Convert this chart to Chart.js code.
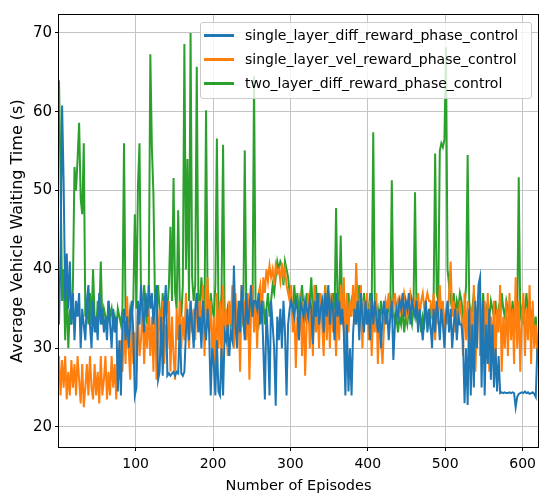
<!DOCTYPE html>
<html>
<head>
<meta charset="utf-8">
<title>Average Vehicle Waiting Time</title>
<script src="https://cdn.jsdelivr.net/npm/chart.js"></script>
<style>
    body { margin: 0; background: #fff; }
    .wrap { position: relative; width: 541px; height: 494px; }
    .legend {
        position: absolute; left: 200px; top: 22px; width: 330px;
        padding: 0 0 3px 0;
        background: rgba(255, 255, 255, 0.8);
        border: 1px solid #cccccc; border-radius: 3px;
        font-family: "DejaVu Sans", sans-serif; font-size: 14px; color: #000;
    }
    .legend .row { height: 24px; line-height: 24px; display: flex; align-items: center; white-space: nowrap; }
    .legend .swatch { width: 30px; height: 3px; margin: 0 11px 0 3px; }
</style>
</head>
<body>
<div class="wrap">
    <canvas id="chart"></canvas>
    <div id="legend" class="legend"></div>
</div>
<script>
// episodes are sampled every second episode
const episodes = [];
for (let e = 1; e < 620; e += 2) episodes.push(e);

const seriesLabels = [
    'single_layer_diff_reward_phase_control',
    'single_layer_vel_reward_phase_control',
    'two_layer_diff_reward_phase_control'
];
const seriesColors = ['#1f77b4', '#ff7f0e', '#2ca02c'];

const xTicks = [100, 200, 300, 400, 500, 600];
const yTicks = [20, 30, 40, 50, 60, 70];

// single_layer_diff_reward_phase_control (blue)
const diffReward = [
    33, 42, 60.8, 51, 36, 42, 35, 41, 33, 37,
    31, 36, 34, 37, 30, 35, 33, 31, 36, 38,
    33, 30, 36, 32, 34, 31, 37, 33, 35, 32,
    34, 31, 36, 33, 30, 35, 32, 34, 24.5, 31,
    24, 33, 35, 31, 34, 30, 33, 36, 32, 24,
    25, 36, 33, 38, 35, 32, 37, 34, 38, 35,
    37, 33, 36, 38, 26, 27, 34, 26.5, 35, 38,
    26.5, 26.8, 26.5, 26.8, 27, 26.5, 27, 26.8, 33, 26.8,
    26.5, 27, 32, 35, 31, 36, 33, 30, 35, 37,
    32, 34, 30, 36, 33, 31, 35, 32, 24, 30,
    28, 24, 31, 24.5, 24, 30, 24, 32, 31, 33,
    29, 32, 31, 40.5, 33, 30, 36, 32, 38, 34,
    31, 37, 33, 35, 38, 34, 36, 36, 35, 37,
    33, 36, 30, 23.5, 35, 31, 24, 36, 33, 30,
    22.7, 34, 31, 35, 30, 36, 32, 24, 33, 35,
    36, 35, 34, 36, 35, 31, 36, 35, 34, 36,
    35, 34, 36, 35, 30.5, 36, 34, 37, 33, 35,
    36, 32, 37, 34, 38, 33, 36, 35, 31, 37,
    34, 36, 33, 35, 32, 24, 33, 24.5, 30, 24,
    32, 35, 33, 36, 31, 37, 34, 32, 36, 33,
    35, 31, 37, 33, 36, 34, 32, 35, 30, 34,
    36, 33, 35, 31, 34, 36, 28.5, 33, 35, 34,
    36, 35, 37, 34, 36, 35, 37, 33, 36, 35,
    34, 36, 32, 35, 33, 31, 34, 36, 32, 35,
    33, 30, 35, 32, 36, 34, 31, 35, 33, 30,
    34, 36, 32, 35, 30, 33, 35, 31, 34, 33,
    33, 31, 23, 30, 22.8, 35, 24, 33, 25, 36,
    30, 38, 39, 25, 36, 24, 33, 28, 35, 26,
    33, 25, 30, 24.5, 29, 24.3, 24.4, 24.3, 24.4, 24.3,
    24.3, 24.4, 24.3, 24.4, 24.3, 22.5, 23.8, 24.2, 24.3, 24.4,
    24.3, 24.5, 24.3, 24.4, 24.2, 24.3, 24.4, 24.2, 23.8, 30
];

// single_layer_vel_reward_phase_control (orange)
const velReward = [
    29, 24, 28.5, 25, 29, 23.5, 27, 24, 28.5, 25,
    28, 24, 29, 26, 23, 28, 22.5, 25, 28, 24,
    29, 25, 23.5, 28, 24, 27, 23, 29, 24, 26,
    29, 23.5, 27, 24, 29, 25, 28, 23.5, 30, 26,
    31, 27, 33, 28, 36.6, 30, 26, 34, 28, 32,
    27, 35, 29, 31, 36, 28, 33, 30, 35, 29,
    34, 27, 36, 26, 32, 35, 29, 36, 28, 33,
    30, 36, 27, 34, 29, 26, 35, 31, 36, 30,
    34, 31, 37, 33, 30, 36, 32, 35, 31, 37,
    33, 36, 31, 38, 29, 35, 39, 32, 36, 28,
    34, 27, 37, 30, 36, 28, 38, 31, 35, 29,
    36, 33, 38, 30, 37, 32, 35, 27, 38, 33,
    36, 31, 37, 26, 34, 38, 32, 36, 30, 37,
    38, 34, 39, 37, 40, 38.5, 40.5, 39, 40, 38,
    40.5, 39.5, 40, 38.5, 40.8, 39, 40, 38, 37, 36,
    38, 32, 35, 27.5, 34, 31, 37, 29, 36, 26.5,
    33, 37, 30, 36, 29, 38, 32, 35, 30, 37,
    33, 29, 38, 31, 36, 30, 37, 32, 35, 29,
    36, 31, 38, 33, 39, 30, 37, 32, 36, 34,
    38, 33, 40.8, 35, 32, 38, 30, 36, 33, 37,
    31, 36, 29, 35, 32, 37, 28, 34, 31, 28,
    33, 36, 35, 37, 34, 36, 35, 37, 35, 36,
    34, 36, 35, 37, 36, 34, 35, 37, 36, 35,
    36, 35, 37, 34, 36, 37, 35, 36, 37, 36,
    36, 34, 37, 31, 36, 33, 38, 34, 36, 32,
    35, 33, 37, 41, 34, 36, 32, 35, 33, 36,
    34, 29, 37, 31, 36, 28, 35, 30, 38, 27,
    33, 37, 29, 35, 28, 36, 31, 37, 27, 34,
    30, 36, 28, 35, 32, 38, 27, 34, 30, 36,
    29, 37, 31, 35, 28, 39, 30, 36, 27, 34,
    37, 29, 35, 31, 38, 28, 36, 30, 33, 29
];

// two_layer_diff_reward_phase_control (green)
const twoLayer = [
    64, 52, 36, 40, 31, 38, 30, 35, 33, 38,
    53, 50, 54, 58.6, 49, 47, 56, 34, 36, 33,
    37, 33, 40, 34, 32, 36, 34, 41, 33, 35,
    34, 33, 36, 34, 35, 33, 34, 32, 35, 34,
    33, 35, 56, 34, 34, 33, 35, 34, 36, 47,
    35, 50.5, 56, 36, 34, 38, 35, 33, 37, 67.3,
    55.5, 49.5, 36, 34, 38, 35, 33, 37, 34, 36,
    35, 38, 45.4, 36, 51.6, 37, 35, 47.5, 36, 34,
    38, 68.6, 40, 54, 36, 70, 39, 36, 38, 65.7,
    37, 35, 39, 36, 34, 60.2, 36, 33, 37, 35,
    34, 38, 56.6, 35, 33, 37, 55.8, 34, 32, 35,
    34, 33, 36, 34, 35, 33, 34, 36, 34, 33,
    55.1, 35, 34, 33, 36, 34, 64.5, 35, 34, 33,
    35, 34, 36, 33, 35, 37, 34, 36, 38, 37,
    39, 41, 40, 41, 40.5, 38, 41, 40, 39, 37,
    36, 34, 38, 35, 37, 34, 36, 38, 35, 34,
    37, 35, 36, 39, 34, 36, 38, 35, 37, 34,
    36, 35, 38, 34, 37, 36, 35, 37, 34, 47.8,
    35, 36, 44.3, 34, 36, 35, 33, 37, 34, 36,
    35, 37, 34, 36, 38, 35, 34, 37, 35, 36,
    34, 37, 35, 57.4, 36, 34, 35, 33, 36, 34,
    33, 35, 34, 36, 34, 51.3, 35, 33, 34, 32,
    34, 33, 35, 32, 34, 33, 35, 34, 33, 35,
    49.8, 34, 33, 35, 32, 34, 33, 35, 34, 33,
    35, 34, 36, 54.7, 37, 36, 55, 56, 55.5, 56.5,
    68.2, 40, 38, 36, 35, 37, 34, 36, 35, 37,
    36, 34, 35, 38, 54.5, 36, 34, 35, 37, 35,
    34, 36, 35, 33, 37, 34, 35, 33, 34, 36,
    35, 34, 36, 33, 35, 34, 37, 35, 34, 36,
    35, 34, 33, 36, 34, 35, 33, 51.7, 34, 35,
    33, 35, 37, 34, 36, 33, 35, 32, 34, 30
];

const seriesValues = [diffReward, velReward, twoLayer];

const family = '"DejaVu Sans", sans-serif';

// black frame round the plot area, like the matplotlib axes
const framePlugin = {
    id: 'frame',
    afterDraw(chart) {
        const a = chart.chartArea;
        const ctx = chart.ctx;
        ctx.save();
        ctx.strokeStyle = '#000';
        ctx.lineWidth = 1;
        ctx.strokeRect(Math.round(a.left) - 0.5, Math.round(a.top) - 0.5,
            Math.round(a.right - a.left) + 1, Math.round(a.bottom - a.top) + 1);
        ctx.restore();
    }
};

const datasets = seriesLabels.map((label, i) => ({
    label: label,
    data: episodes.map((e, j) => ({ x: e, y: seriesValues[i][j] })),
    borderColor: seriesColors[i],
    backgroundColor: seriesColors[i],
    borderWidth: 2,
    pointRadius: 0,
    tension: 0,
    fill: false
}));

const chart = new Chart(document.getElementById('chart'), {
    type: 'line',
    data: { datasets: datasets },
    options: {
        responsive: true,
        maintainAspectRatio: false,
        animation: false,
        layout: { padding: { top: 15, right: 1, left: 0, bottom: 0 } },
        plugins: {
            legend: { display: false },
            tooltip: { enabled: false }
        },
        scales: {
            x: {
                type: 'linear',
                min: 1,
                max: 620,
                afterBuildTicks: (s) => { s.ticks = xTicks.map(v => ({ value: v })); },
                afterFit: (s) => { s.height = 47; },
                grid: { color: '#c4c4c4', lineWidth: 1, tickLength: 4, tickColor: '#000' },
                border: { display: false },
                ticks: { font: { family: family, size: 14 }, color: '#000', padding: 5, maxRotation: 0 },
                title: { display: true, text: 'Number of Episodes', font: { family: family, size: 14.5 }, color: '#000', padding: { top: 0, bottom: -1 } }
            },
            y: {
                type: 'linear',
                min: 17.46,
                max: 72.28,
                afterBuildTicks: (s) => { s.ticks = yTicks.map(v => ({ value: v })); },
                afterFit: (s) => { s.width = 59; },
                grid: { color: '#c4c4c4', lineWidth: 1, tickLength: 4, tickColor: '#000' },
                border: { display: false },
                ticks: { font: { family: family, size: 15 }, color: '#000', padding: 3 },
                title: { display: true, text: 'Average Vehicle Waiting Time (s)', font: { family: family, size: 16 }, color: '#000', padding: { top: 8, bottom: 0 } }
            }
        }
    },
    plugins: [framePlugin]
});

// legend in the upper right corner, built from the datasets
const legendBox = document.getElementById('legend');
chart.data.datasets.forEach(ds => {
    const row = document.createElement('div');
    row.className = 'row';
    const sw = document.createElement('span');
    sw.className = 'swatch';
    sw.style.background = ds.borderColor;
    const txt = document.createElement('span');
    txt.textContent = ds.label;
    row.appendChild(sw);
    row.appendChild(txt);
    legendBox.appendChild(row);
});
</script>
</body>
</html>
